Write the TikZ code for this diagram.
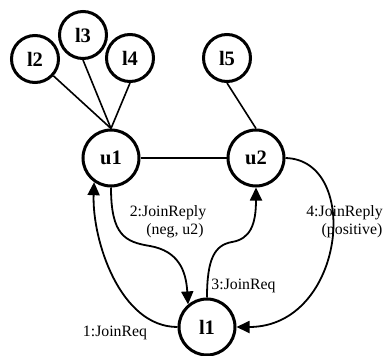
\documentclass[tikz,border=0pt]{standalone}
\usepackage{fontspec}
\setmainfont{Liberation Serif}
\usetikzlibrary{arrows.meta}
\begin{document}
\begin{tikzpicture}[x=1pt,y=-1pt,
  big/.style={circle,draw,line width=3pt,minimum size=56pt,inner sep=0pt,font=\fontsize{20.5}{21}\selectfont\bfseries},
  small/.style={circle,draw,line width=3pt,minimum size=47pt,inner sep=0pt,font=\fontsize{20.5}{21}\selectfont\bfseries},
  link/.style={line width=1.6pt},
  msg/.style={line width=1.8pt,-{Triangle[length=13pt,width=12pt]}},
  lbl/.style={inner sep=0pt,font=\fontsize{15.8}{17}\selectfont}]
\useasboundingbox (0,0) rectangle (383,356);
\node[small] (l2) at (35,59) {l2};
\node[small] (l3) at (83,35) {l3};
\node[small] (l4) at (130,58) {l4};
\node[small] (l5) at (227,58) {l5};
\node[big] (u1) at (111,158) {u1};
\node[big] (u2) at (256,158) {u2};
\node[big] (l1) at (207,327) {l1};
\draw[link] (l2) -- (u1.north);
\draw[link] (l3.south) -- (u1.north);
\draw[link] (l4.south) -- (u1.north);
\draw[link] (l5.south) -- (u2.north);
\draw[link] (u1) -- (u2);
\draw[msg] (l1.west) .. controls (120,327) and (92,240) .. (u1.235);
\draw[msg] (u1.south) .. controls (111,235) and (125,242) .. (150,246) .. controls (178,251) and (186,270) .. (l1.130);
\draw[msg] (l1.north) .. controls (207,258) and (215,245) .. (232,242) .. controls (250,239) and (256,225) .. (u2.south);
\draw[msg] (u2.east) .. controls (362,160) and (345,327) .. (l1.east);
\node[lbl] (t1) at (115,333) {1:JoinReq};
\node[lbl] (t2a) at (168,213) {2:JoinReply};
\node[lbl] (t2b) at (175,231) {(neg, u2)};
\node[lbl] (t3) at (243.5,286) {3:JoinReq};
\node[lbl] (t4a) at (344.5,213) {4:JoinReply};
\node[lbl] (t4b) at (352,231) {(positive)};
\end{tikzpicture}
\end{document}
